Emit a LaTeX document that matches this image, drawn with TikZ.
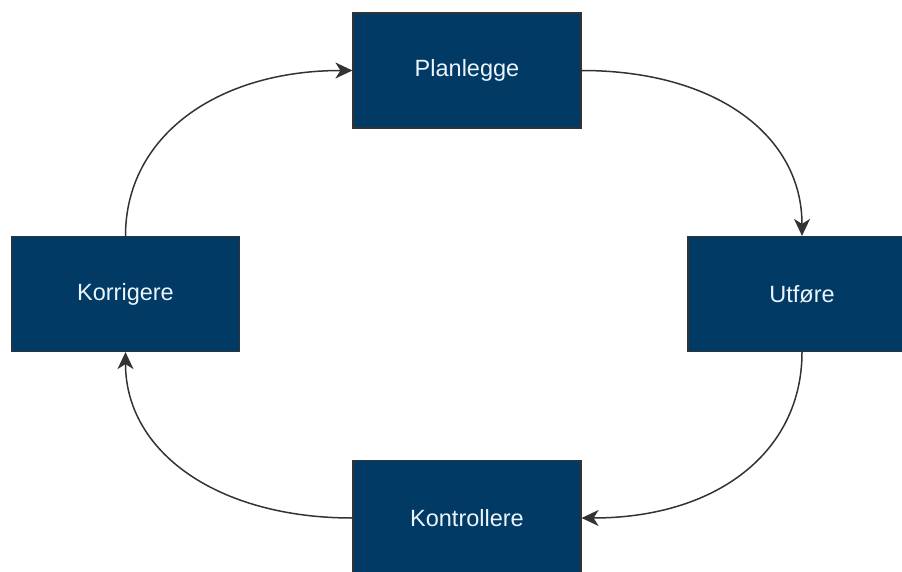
\documentclass[tikz,border=0pt]{standalone}
\usepackage{fontspec}
\setmainfont{Liberation Sans}
\usetikzlibrary{arrows.meta,calc}
\definecolor{boxfill}{HTML}{023A66}
\definecolor{boxline}{HTML}{333333}
\definecolor{boxtext}{HTML}{EAF4FA}
\definecolor{arrowc}{HTML}{333333}
\begin{document}
\begin{tikzpicture}[x=1pt,y=-1pt,
  stepbox/.style={draw=boxline,line width=1.2pt,fill=boxfill,text=boxtext,
    minimum width=228pt,minimum height=115pt,inner sep=0pt,
    font=\fontsize{23.5}{28}\selectfont},
  conn/.style={draw=arrowc,line width=1.5pt,
    -{Stealth[length=17pt,width=16pt,inset=5pt]}}]
\useasboundingbox (0,0) rectangle (902,572);
\begin{scope}
\clip (0,0) rectangle (902,572);
\node[stepbox] (plan) at (467,70.5) {Planlegge};
\node[stepbox] (korr) at (125.5,294) {Korrigere};
\node[stepbox] (utf) at (802,294) {Utføre};
\node[stepbox] (kontr) at (467,518) {Kontrollere};
\end{scope}
\draw[conn] (korr.north) .. controls ($(korr.north)+(0,-100)$) and ($(plan.west)+(-135,0)$) .. (plan.west);
\draw[conn] (plan.east) .. controls ($(plan.east)+(135,0)$) and ($(utf.north)+(0,-100)$) .. (utf.north);
\draw[conn] (utf.south) .. controls ($(utf.south)+(0,100)$) and ($(kontr.east)+(135,0)$) .. (kontr.east);
\draw[conn] (kontr.west) .. controls ($(kontr.west)+(-135,0)$) and ($(korr.south)+(0,100)$) .. (korr.south);
\end{tikzpicture}
\end{document}
